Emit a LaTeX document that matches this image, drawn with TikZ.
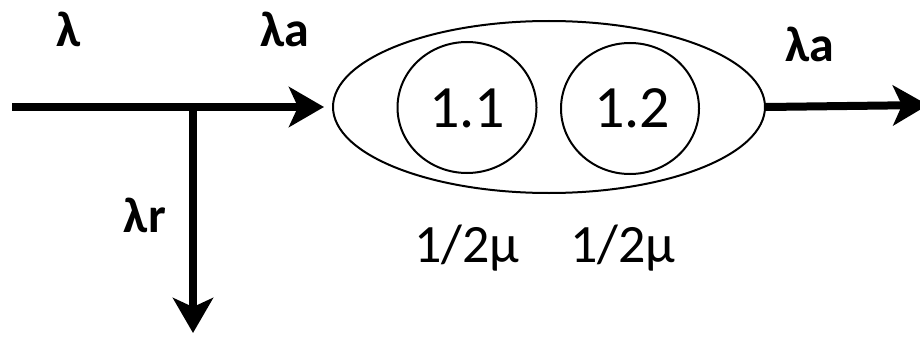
\documentclass[tikz,border=0pt]{standalone}
\usepackage{fontspec}
\setmainfont{Carlito}
\usetikzlibrary{arrows.meta,shapes.geometric}
\begin{document}
\begin{tikzpicture}[x=1pt,y=-1pt,
  flow/.style={line width=8pt,-{Stealth[length=35pt,width=40pt,inset=9pt]}},
  outline/.style={draw,ellipse,line width=2pt,inner sep=0pt},
  lbl/.style={font=\fontsize{50}{56}\selectfont\bfseries,anchor=base,inner sep=0pt},
  num/.style={font=\fontsize{60}{66}\selectfont,anchor=base,inner sep=0pt},
  rate/.style={font=\fontsize{54}{60}\selectfont,anchor=base,inner sep=0pt}]
\clip (0,0) rectangle (920,337);
\useasboundingbox (0,0) rectangle (920,337);
\node[outline,minimum width=432pt,minimum height=172pt] (sys) at (549,107) {};
\node[outline,minimum width=139pt,minimum height=131pt] (c1) at (467,107.5) {};
\node[outline,minimum width=138pt,minimum height=131pt] (c2) at (630,108.5) {};
\node[num] (t1) at (467,127) {1.1};
\node[num] (t2) at (632,127) {1.2};
\node[rate] (r1) at (467,262) {1/2μ};
\node[rate] (r2) at (623,262) {1/2μ};
\node[lbl] (lam) at (69,47) {λ};
\node[lbl] (lama) at (285,47) {λa};
\node[lbl] (lamr) at (145,232) {λr};
\node[lbl] (lamo) at (810,62) {λa};
\coordinate (in) at (12,107);
\coordinate (split) at (193,111);
\coordinate (rej) at (193,333);
\coordinate (out) at (928,105);
\draw[flow,shorten >=8pt] (in) -- (sys.west);
\draw[flow] (split) -- (rej);
\draw[flow] (sys.east) -- (out);
\end{tikzpicture}
\end{document}
